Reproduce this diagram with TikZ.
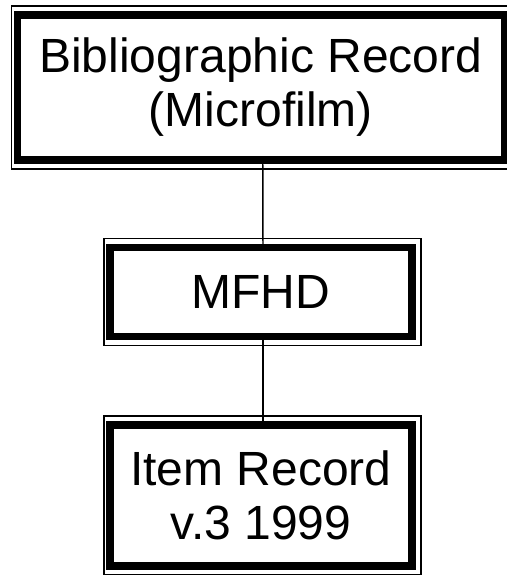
\documentclass[tikz,border=0pt]{standalone}
\usepackage{fontspec}
\setmainfont{Liberation Sans}
\definecolor{boxcolor}{RGB}{0,0,0}

\begin{document}
\begin{tikzpicture}[x=0.75pt, y=-0.75pt,
    recbox/.style={draw=boxcolor, line width=5.3pt, outer sep=0pt, inner sep=0pt,
      align=center, font=\fontsize{36}{40.5}\selectfont, minimum width=226.5pt},
    frame/.style={draw=boxcolor, line width=1.1pt},
    link/.style={draw=boxcolor, line width=1.1pt}]
  % Fix the picture size
  \useasboundingbox (0,0) rectangle (507,575);

  % Draw the three records
  \node[recbox, minimum width=365pt, minimum height=108.75pt] (bib) at (260.75,87.5)
    {Bibliographic Record\\(Microfilm)};
  \node[recbox, minimum height=66.75pt] (mfhd) at (261,292) {MFHD};
  \node[recbox, minimum height=105.75pt] (item) at (261,495.5) {Item Record\\v.3 1999};

  % Thin outer frames
  \foreach \n in {bib,mfhd,item}
    \draw[frame] ([shift={(-6,-9)}]\n.north west) rectangle ([shift={(9,9)}]\n.south east);

  % Connect them
  \draw[link] ([xshift=1.5pt]bib.south) -- ([xshift=1.5pt]mfhd.north);
  \draw[link] ([xshift=1.5pt]mfhd.south) -- ([xshift=1.5pt]item.north);
\end{tikzpicture}
\end{document}
